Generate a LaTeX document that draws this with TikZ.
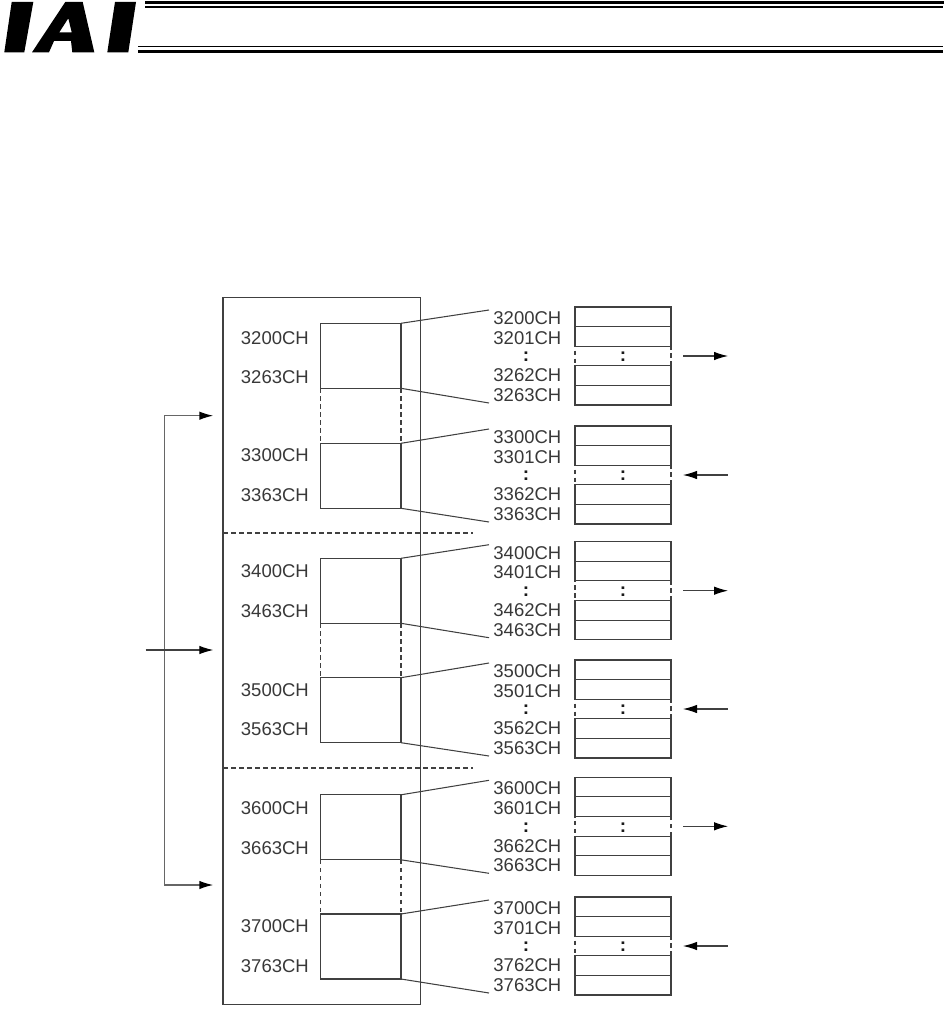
\documentclass[tikz,border=0pt]{standalone}
\usepackage{fontspec}
\setmainfont{Liberation Sans}
\usepackage{xcolor}
\usetikzlibrary{arrows.meta,positioning}

\begin{document}
\begin{tikzpicture}[
    x=1pt, y=-1pt,
    line/.style={draw=black!75, line width=1.05pt},
    breakline/.style={line, dash pattern=on 4.5pt off 3.5pt},
    memblock/.style={
        line,
        minimum width=80.3pt,
        minimum height=65pt,
        inner sep=0pt,
        outer sep=0pt
    },
    cell/.style={
        line,
        minimum width=96pt,
        minimum height=19.6pt,
        inner sep=0pt,
        outer sep=0pt
    },
    gapcell/.style={cell, breakline},
    chlabel/.style={
        text=black!78,
        inner sep=0pt,
        font=\fontsize{18.5}{20}\selectfont
    },
    dotslabel/.style={
        text=black!90,
        inner sep=0pt,
        yshift=-1pt,
        font=\bfseries\fontsize{19}{20}\selectfont
    },
    arrow/.style={line, -{Latex[length=14pt, width=8.5pt, black]}},
    arrowout/.style={arrow},
    arrowin/.style={line, {Latex[length=14pt, width=8.5pt, black]}-},
    bus/.style={draw=black!60, line width=1.4pt, {Latex[length=14pt, width=8.5pt, black]}-{Latex[length=14pt, width=8.5pt, black]}}
]
\useasboundingbox (0,0) rectangle (944,1014);

% logo and header rules
\fill[black] (11.7,2) -- (33.3,2) -- (24.3,52.3) -- (4.3,52.3) -- cycle;
\fill[black, even odd rule] (65.3,2) -- (82.7,2) -- (94.3,52.3) -- (72.3,52.3) -- (71,41) -- (54,41) -- (49,52.3) -- (32,52.3) -- cycle
    (68.3,18.3) -- (71.7,32.3) -- (59.3,32.3) -- cycle;
\fill[black] (115,2) -- (136,2) -- (128.3,52.3) -- (107.3,52.3) -- cycle;
\fill[black] (145,1) rectangle (944,4);
\fill[black] (145,5.7) rectangle (943,7.7);
\fill[black] (138,46) rectangle (943,47);
\fill[black] (138,50) rectangle (943,53);

% outer memory area
\node[line, inner sep=0pt, outer sep=0pt, minimum width=197.7pt, minimum height=706.6pt] (area) at (321.85,651) {};
\draw[breakline] (area.west |- 0,533) -- (473,533);
\draw[breakline] (area.west |- 0,768) -- (473,768);

% one block and one stack of cells per channel range
\foreach \base/\stacktop/\memtop/\offa/\offb/\tip in {
    32/307/323.3/14.7/11.3/arrowout,
    33/426/443.3/11.7/13.3/arrowin,
    34/541.7/558.3/12.7/12.3/arrowout,
    35/660/677.7/12.3/13.7/arrowin,
    36/777.3/794.8/13.2/11.8/arrowout,
    37/897/914/12/13/arrowin}
{
    \node[memblock, anchor=north west] (mem\base) at (320.7,\memtop) {};
    \node[chlabel, left=11.7pt of mem\base.north west, yshift=-\offa pt] (mema\base) {\base00CH};
    \node[chlabel, left=11.7pt of mem\base.south west, yshift=\offb pt] (memb\base) {\base63CH};

    \node[cell, anchor=north west] (cella\base) at (575,\stacktop) {};
    \node[cell, below=0pt of cella\base] (cellb\base) {};
    \node[gapcell, below=0pt of cellb\base] (cellc\base) {};
    \node[cell, below=0pt of cellc\base] (celld\base) {};
    \node[cell, below=0pt of celld\base] (celle\base) {};
    \node[dotslabel] (dotsc\base) at (cellc\base) {:};

    \node[chlabel, left=13.5pt of cella\base, yshift=-1.4pt] (cha\base) {\base00CH};
    \node[chlabel, left=13.5pt of cellb\base, yshift=-1.4pt] (chb\base) {\base01CH};
    \node[dotslabel, left=45.7pt of cellc\base] (chc\base) {:};
    \node[chlabel, left=13.5pt of celld\base] (chd\base) {\base62CH};
    \node[chlabel, left=13.5pt of celle\base] (che\base) {\base63CH};

    \coordinate (leada\base) at ([shift={(-86,3)}]cella\base.north west);
    \coordinate (leadb\base) at ([shift={(-86,-2)}]celle\base.south west);
    \draw[line] (mem\base.north east) -- (leada\base);
    \draw[line] (mem\base.south east) -- (leadb\base);

    \coordinate (near\base) at ([xshift=12pt]cellc\base.east);
    \coordinate (far\base) at ([xshift=57pt]cellc\base.east);
    \draw[\tip] (near\base) -- (far\base);
}

% dashed links between the paired blocks
\foreach \upper/\lower in {32/33, 34/35, 36/37}
{
    \draw[breakline] (mem\upper.south west) -- (mem\lower.north west);
    \draw[breakline] (mem\upper.south east) -- (mem\lower.north east);
}

% left side bus and input
\coordinate (tiptop) at (213.3,415.7);
\coordinate (tipmid) at (213.3,650);
\coordinate (tipbot) at (213.3,885);
\coordinate (bustop) at (164.7,415.7);
\coordinate (busbot) at (164.7,885);
\coordinate (input) at (145.7,650);
\draw[bus] (tiptop) -- (bustop) -- (busbot) -- (tipbot);
\draw[arrow] (input) -- (tipmid);
\end{tikzpicture}
\end{document}
